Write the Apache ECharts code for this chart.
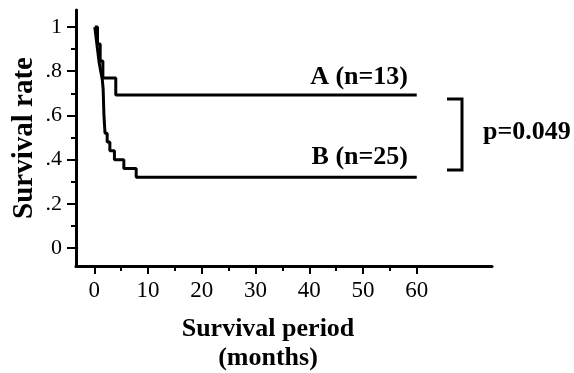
<!DOCTYPE html>
<html>
<head>
<meta charset="utf-8">
<script src="https://cdn.jsdelivr.net/npm/echarts@6/dist/echarts.min.js"></script>
<style>
html,body{margin:0;padding:0;background:#fff;}
#c{width:574px;height:373px;}
</style>
</head>
<body>
<div id="c"></div>
<script>
// Group A (n=13): [month, survival]
const groupA = [[0.1,1],[0.6,0.923],[1.1,0.846],[1.6,0.769],[4.0,0.692],[60,0.692]];
// Group B (n=25): [month, survival]
const groupB = [[0.1,1],[0.3,0.96],[0.5,0.92],[0.7,0.88],[0.9,0.84],[1.2,0.80],[1.5,0.76],[1.65,0.72],[1.7,0.68],[1.75,0.64],[1.8,0.60],[1.9,0.56],[2.0,0.52],[2.4,0.48],[2.9,0.44],[3.75,0.40],[5.5,0.36],[7.8,0.32],[60,0.32]];
const seriesNames = ['A (n=13)', 'B (n=25)'];
const xMajorTicks = [0,10,20,30,40,50,60];
const xMinorTicks = [5,15,25,35,45,55];
const yMajorTicks = [0,0.2,0.4,0.6,0.8,1];
const yTickLabels = ['0','.2','.4','.6','.8','1'];
const yMinorTicks = [0.1,0.3,0.5,0.7,0.9];
const pValueText = 'p=0.049';

const FONT = 'Liberation Serif';
const chart = echarts.init(document.getElementById('c'), null, {renderer:'canvas'});
const axisBase = {
  type:'value', splitLine:{show:false}
};
chart.setOption({
  backgroundColor:'#fff',
  animation:false,
  grid:{left:76, top:10, width:416, height:256, containLabel:false, outerBoundsMode:'none'},
  xAxis:[
    Object.assign({}, axisBase, {
      position:'bottom', min:-3.4, max:74,
      axisLine:{show:true, onZero:false, lineStyle:{color:'#000', width:3}},
      axisTick:{show:true, length:8, customValues:xMajorTicks, lineStyle:{color:'#000', width:2}},
      axisLabel:{show:true, customValues:xMajorTicks, margin:13, color:'#000', fontFamily:FONT, fontSize:23},
      name:'Survival period\n(months)', nameLocation:'middle', nameGap:49, nameMoveOverlap:false,
      nameTextStyle:{color:'#000', fontFamily:FONT, fontWeight:'bold', fontSize:26, lineHeight:29, padding:[0,32,0,0]}
    }),
    Object.assign({}, axisBase, {
      position:'bottom', offset:0, min:-3.4, max:74,
      axisLine:{show:false, onZero:false},
      axisTick:{show:true, length:5, customValues:xMinorTicks, lineStyle:{color:'#000', width:2}},
      axisLabel:{show:false}
    })
  ],
  yAxis:[
    Object.assign({}, axisBase, {
      position:'left', min:-0.081, max:1.077,
      axisLine:{show:true, onZero:false, lineStyle:{color:'#000', width:3}},
      axisTick:{show:true, length:9, customValues:yMajorTicks, lineStyle:{color:'#000', width:2}},
      axisLabel:{show:true, customValues:yMajorTicks, margin:14, color:'#000', fontFamily:FONT, fontSize:22,
        formatter:function(v){ const i = yMajorTicks.findIndex(t=>Math.abs(t-v)<1e-9); return i>=0 ? yTickLabels[i] : ''; }},
      name:'Survival rate', nameLocation:'middle', nameGap:37, nameMoveOverlap:false,
      nameTextStyle:{color:'#000', fontFamily:FONT, fontWeight:'bold', fontSize:29}
    }),
    Object.assign({}, axisBase, {
      position:'left', offset:0, min:-0.081, max:1.077,
      axisLine:{show:false, onZero:false},
      axisTick:{show:true, length:5, customValues:yMinorTicks, lineStyle:{color:'#000', width:2}},
      axisLabel:{show:false}
    })
  ],
  series:[
    {name:seriesNames[0], type:'line', step:'end', data:groupA, showSymbol:false, symbol:'none',
     lineStyle:{color:'#000', width:3}, xAxisIndex:0, yAxisIndex:0},
    {name:seriesNames[1], type:'line', step:'end', data:groupB, showSymbol:false, symbol:'none',
     lineStyle:{color:'#000', width:3}, xAxisIndex:0, yAxisIndex:0}
  ],
  graphic:[
    {type:'text', x:408, y:77, style:{text:seriesNames[0], font:'bold 26px "Liberation Serif"', textAlign:'right', textVerticalAlign:'middle', fill:'#000'}},
    {type:'text', x:408, y:157, style:{text:seriesNames[1], font:'bold 26px "Liberation Serif"', textAlign:'right', textVerticalAlign:'middle', fill:'#000'}},
    {type:'polyline', shape:{points:[[447,99],[462,99],[462,170],[447,170]]}, style:{stroke:'#000', lineWidth:3, fill:null}},
    {type:'text', x:483, y:132, style:{text:pValueText, font:'bold 26px "Liberation Serif"', textAlign:'left', textVerticalAlign:'middle', fill:'#000'}}
  ]
});
</script>
</body>
</html>
